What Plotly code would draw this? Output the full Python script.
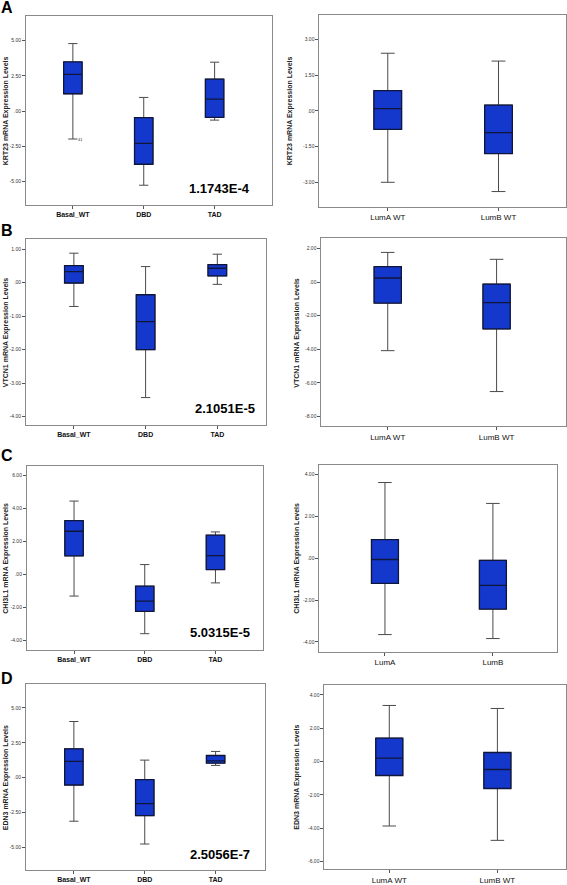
import plotly.graph_objects as go

W, H = 567, 885

# ---------------- data ----------------
cats_basal = ["Basal_WT", "DBD", "TAD"]
cats_lum_wt = ["LumA WT", "LumB WT"]
cats_lum = ["LumA", "LumB"]

# Panel A - KRT23
a_l_q1 = [1.23, -3.77, -0.45]
a_l_med = [2.60, -2.29, 0.85]
a_l_q3 = [3.49, -0.47, 2.27]
a_l_lo = [-1.98, -5.26, -0.64]
a_l_hi = [4.79, 0.97, 3.47]
a_r_q1 = [-0.77, -1.79]
a_r_med = [0.10, -0.91]
a_r_q3 = [0.86, 0.25]
a_r_lo = [-3.00, -3.39]
a_r_hi = [2.43, 2.10]

# Panel B - VTCN1
b_l_q1 = [-0.01, -2.00, 0.20]
b_l_med = [0.33, -1.16, 0.43]
b_l_q3 = [0.51, -0.36, 0.54]
b_l_lo = [-0.71, -3.43, -0.05]
b_l_hi = [0.88, 0.48, 0.85]
b_r_q1 = [-1.25, -2.79]
b_r_med = [0.24, -1.23]
b_r_q3 = [0.91, -0.12]
b_r_lo = [-4.08, -6.51]
b_r_hi = [1.76, 1.35]

# Panel C - CHI3L1
c_l_q1 = [1.11, -2.26, 0.28]
c_l_med = [2.60, -1.63, 1.12]
c_l_q3 = [3.24, -0.73, 2.36]
c_l_lo = [-1.33, -3.61, -0.53]
c_l_hi = [4.43, 0.58, 2.56]
c_r_q1 = [-1.20, -2.43]
c_r_med = [-0.06, -1.30]
c_r_q3 = [0.89, -0.10]
c_r_lo = [-3.65, -3.84]
c_r_hi = [3.62, 2.62]

# Panel D - EDN3
d_l_q1 = [-0.52, -2.71, 1.05]
d_l_med = [1.17, -1.85, 1.21]
d_l_q3 = [2.07, -0.14, 1.59]
d_l_lo = [-3.11, -4.74, 0.88]
d_l_hi = [4.02, 1.26, 1.88]
d_r_q1 = [-0.84, -1.62]
d_r_med = [0.20, -0.48]
d_r_q3 = [1.40, 0.54]
d_r_lo = [-3.87, -4.73]
d_r_hi = [3.36, 3.18]

pvalues = ["1.1743E-4", "2.1051E-5", "5.0315E-5", "2.5056E-7"]
panel_letters = ["A", "B", "C", "D"]
ytitles = ["KRT23 mRNA Expression Levels", "VTCN1 mRNA Expression Levels",
           "CHI3L1 mRNA Expression Levels", "EDN3 mRNA Expression Levels"]

ticks_a_l = [5, 2.5, 0, -2.5, -5]
labels_a_l = ["5.00", "2.50", ".00", "-2.50", "-5.00"]
ticks_a_r = [3, 1.5, 0, -1.5, -3]
labels_a_r = ["3.00", "1.50", ".00", "-1.50", "-3.00"]
ticks_b_l = [1, 0, -1, -2, -3, -4]
labels_b_l = ["1.00", ".00", "-1.00", "-2.00", "-3.00", "-4.00"]
ticks_b_r = [2, 0, -2, -4, -6, -8]
labels_b_r = ["2.00", ".00", "-2.00", "-4.00", "-6.00", "-8.00"]
ticks_c_l = [6, 4, 2, 0, -2, -4]
labels_c_l = ["6.00", "4.00", "2.00", ".00", "-2.00", "-4.00"]
ticks_c_r = [4, 2, 0, -2, -4]
labels_c_r = ["4.00", "2.00", ".00", "-2.00", "-4.00"]
ticks_d_l = [5, 2.5, 0, -2.5, -5]
labels_d_l = ["5.00", "2.50", ".00", "-2.50", "-5.00"]
ticks_d_r = [4, 2, 0, -2, -4, -6]
labels_d_r = ["4.00", "2.00", ".00", "-2.00", "-4.00", "-6.00"]

# ---------------- layout geometry (pixels) ----------------
panels = [
    dict(cats=cats_basal, q1=a_l_q1, med=a_l_med, q3=a_l_q3, lo=a_l_lo, hi=a_l_hi,
         tv=ticks_a_l, tt=labels_a_l, box=(26, 272, 16, 205), xr=[-0.662, 2.803], yr=[-6.63, 6.75],
         tx=6, title=ytitles[0], left=True),
    dict(cats=cats_lum_wt, q1=a_r_q1, med=a_r_med, q3=a_r_q3, lo=a_r_lo, hi=a_r_hi,
         tv=ticks_a_r, tt=labels_a_r, box=(320, 566.5, 15, 207), xr=[-0.617, 1.605], yr=[-4.02, 4.04],
         tx=290, title=ytitles[0], left=False),
    dict(cats=cats_basal, q1=b_l_q1, med=b_l_med, q3=b_l_q3, lo=b_l_lo, hi=b_l_hi,
         tv=ticks_b_l, tt=labels_b_l, box=(26, 266, 240, 426), xr=[-0.668, 2.672], yr=[-4.25, 1.29],
         tx=6, title=ytitles[1], left=True),
    dict(cats=cats_lum_wt, q1=b_r_q1, med=b_r_med, q3=b_r_q3, lo=b_r_lo, hi=b_r_hi,
         tv=ticks_b_r, tt=labels_b_r, box=(322, 566.5, 239, 427), xr=[-0.609, 1.633], yr=[-8.56, 2.59],
         tx=298, title=ytitles[1], left=False),
    dict(cats=cats_basal, q1=c_l_q1, med=c_l_med, q3=c_l_q3, lo=c_l_lo, hi=c_l_hi,
         tv=ticks_c_l, tt=labels_c_l, box=(27, 263, 467, 651), xr=[-0.666, 2.666], yr=[-4.57, 6.56],
         tx=6, title=ytitles[2], left=True),
    dict(cats=cats_lum, q1=c_r_q1, med=c_r_med, q3=c_r_q3, lo=c_r_lo, hi=c_r_hi,
         tv=ticks_c_r, tt=labels_c_r, box=(320, 558, 466, 653), xr=[-0.607, 1.594], yr=[-4.46, 4.46],
         tx=298, title=ytitles[2], left=False),
    dict(cats=cats_basal, q1=d_l_q1, med=d_l_med, q3=d_l_q3, lo=d_l_lo, hi=d_l_hi,
         tv=ticks_d_l, tt=labels_d_l, box=(26, 265, 686, 872), xr=[-0.676, 2.69], yr=[-6.6, 6.67],
         tx=6, title=ytitles[3], left=True),
    dict(cats=cats_lum_wt, q1=d_r_q1, med=d_r_med, q3=d_r_q3, lo=d_r_lo, hi=d_r_hi,
         tv=ticks_d_r, tt=labels_d_r, box=(325, 566.5, 687, 871), xr=[-0.60, 1.63], yr=[-6.45, 4.56],
         tx=298, title=ytitles[3], left=False),
]

pval_pos = [(220, 189), (225, 409), (220, 634), (220, 856)]
letter_pos = [(7, 8), (7, 231), (7, 457), (7, 680)]

FONT = "Liberation Sans, Arial, sans-serif"
FILL = "#1438cc"

fig = go.Figure()
layout = dict(width=W, height=H, margin=dict(l=0, r=0, t=0, b=0),
              paper_bgcolor="white", plot_bgcolor="white", showlegend=False,
              boxmode="overlay", font=dict(family=FONT, color="black"))
annotations = []

for i, p in enumerate(panels):
    n = "" if i == 0 else str(i + 1)
    xa, ya = "x" + n, "y" + n
    x0, x1, y0, y1 = p["box"]
    bw = 0.26 if p["left"] else 0.25
    # whiskers (gray)
    fig.add_trace(go.Box(x=p["cats"], q1=p["q1"], median=p["med"], q3=p["q3"],
                         lowerfence=p["lo"], upperfence=p["hi"],
                         fillcolor=FILL, line=dict(color="#4a4a4a", width=1),
                         whiskerwidth=0.5, width=bw, xaxis=xa, yaxis=ya,
                         hoverinfo="skip", boxpoints=False))
    # box outline + median (dark)
    fig.add_trace(go.Box(x=p["cats"], q1=p["q1"], median=p["med"], q3=p["q3"],
                         lowerfence=p["q1"], upperfence=p["q3"],
                         fillcolor=FILL, line=dict(color="#10163a", width=1.3),
                         whiskerwidth=0, width=bw, xaxis=xa, yaxis=ya,
                         hoverinfo="skip", boxpoints=False))
    xkey = "xaxis" + n
    ykey = "yaxis" + n
    layout[xkey] = dict(domain=[x0 / W, x1 / W], anchor=ya, type="category",
                        categoryorder="array", categoryarray=p["cats"],
                        range=p["xr"], showline=True, mirror=True, linecolor="#8a8a8a",
                        linewidth=1, ticks="outside", ticklen=3,
                        tickcolor="#555", showgrid=False, zeroline=False, fixedrange=True,
                        tickfont=dict(size=7 if p["left"] else 8, family=FONT, color="#111",
                                      weight="bold" if p["left"] else "normal"))
    layout[ykey] = dict(domain=[1 - y1 / H, 1 - y0 / H], anchor=xa, range=p["yr"],
                        tickvals=p["tv"], ticktext=p["tt"], showline=True, mirror=True,
                        linecolor="#8a8a8a", linewidth=1, ticks="outside", ticklen=3,
                        tickcolor="#555", showgrid=False, zeroline=False, fixedrange=True,
                        tickfont=dict(size=5, family=FONT, color="#333"))
    annotations.append(dict(text="<b>" + p["title"] + "</b>", textangle=-90,
                            x=p["tx"] / W, y=1 - ((y0 + y1) / 2) / H, xref="paper", yref="paper",
                            showarrow=False, font=dict(size=7, family=FONT, color="#222"),
                            xanchor="center", yanchor="middle"))

for k in range(4):
    px, py = pval_pos[k]
    annotations.append(dict(text="<b>" + pvalues[k] + "</b>", x=px / W, y=1 - py / H,
                            xref="paper", yref="paper", showarrow=False,
                            font=dict(size=13, family=FONT, color="black"),
                            xanchor="center", yanchor="middle"))
    lx, ly = letter_pos[k]
    annotations.append(dict(text="<b>" + panel_letters[k] + "</b>", x=lx / W, y=1 - ly / H,
                            xref="paper", yref="paper", showarrow=False,
                            font=dict(size=16, family=FONT, color="black"),
                            xanchor="center", yanchor="middle"))

# outlier case label in panel A (Basal_WT lower whisker)
annotations.append(dict(text="41", x="Basal_WT", y=a_l_lo[0], xref="x", yref="y",
                        xshift=8, showarrow=False, font=dict(size=4, family=FONT, color="#333"),
                        xanchor="center", yanchor="middle"))

layout["annotations"] = annotations
fig.update_layout(**layout)
fig.write_html("out.html", config={"displayModeBar": False},
               post_script="document.body.style.margin='0';document.body.style.overflow='hidden';")
